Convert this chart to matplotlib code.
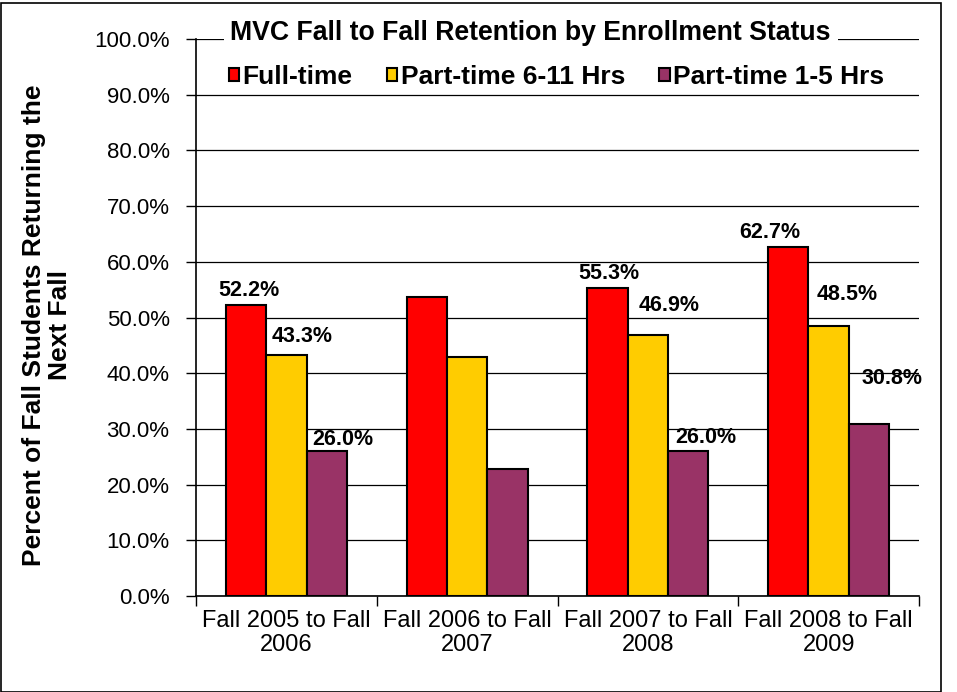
import matplotlib.pyplot as plt
import matplotlib.transforms as mtransforms
import numpy as np
from matplotlib.patches import Rectangle, Patch

plt.rcParams["font.family"] = ["Liberation Sans", "DejaVu Sans"]

periods = ["Fall 2005 to Fall\n2006", "Fall 2006 to Fall\n2007",
           "Fall 2007 to Fall\n2008", "Fall 2008 to Fall\n2009"]
series = ["Full-time", "Part-time 6-11 Hrs", "Part-time 1-5 Hrs"]
full_time = [52.2, 53.6, 55.3, 62.7]
part_6_11 = [43.3, 42.9, 46.9, 48.5]
part_1_5 = [26.0, 22.8, 26.0, 30.8]
# the 2006-2007 group has no data labels in the original
show_label = [True, False, True, True]

colors = ["#FF0000", "#FFCC00", "#993366"]
# label offsets in pixels (dx, dy) per series / period, as placed in the source chart
label_offsets = [
    [(3, 15), None, (1, 15), (-19, 14)],
    [(16, 18), None, (21, 29), (19, 31)],
    [(16, 12), None, (18, 14), (23, 46)],
]

fig = plt.figure(figsize=(9.57, 6.92), dpi=100)
ax = fig.add_axes([0.2048, 0.1387, 0.7555, 0.8049])

x = np.arange(len(periods))
width = 0.223
values = [full_time, part_6_11, part_1_5]
for i, (vals, color) in enumerate(zip(values, colors)):
    pos = x + (i - 1) * width
    ax.bar(pos, vals, width, color=color, edgecolor="black", linewidth=1.5, zorder=3)
    for j, v in enumerate(vals):
        if not show_label[j]:
            continue
        dx, dy = label_offsets[i][j]
        ax.annotate(f"{v:.1f}%", (pos[j], v), xytext=(dx * 0.72, dy * 0.72),
                    textcoords="offset points", ha="center", va="center",
                    fontsize=15.5, fontweight="bold", zorder=4)

ax.set_ylim(0, 100)
ax.set_xlim(-0.5, len(periods) - 0.5)
ticks = np.arange(0, 101, 10)
ax.set_yticks(ticks)
ax.set_yticklabels([f"{t:.1f}%" for t in ticks], fontsize=16)
ax.yaxis.grid(True, color="black", linewidth=0.9, zorder=0)
ax.set_axisbelow(True)

ax.set_xticks(np.arange(-0.5, len(periods), 1.0))
ax.set_xticklabels([])
ax.set_xticks(x, minor=True)
ax.set_xticklabels(periods, minor=True, fontsize=17, linespacing=1.15)
ax.tick_params(axis="x", which="minor", length=0, pad=10)
ax.tick_params(axis="x", which="major", length=7, width=1, direction="out")
ax.tick_params(axis="y", length=7, width=1, direction="out", pad=12)

for side in ("top", "right"):
    ax.spines[side].set_visible(False)
for side in ("left", "bottom"):
    ax.spines[side].set_linewidth(1.2)

ax.set_ylabel("Percent of Fall Students Returning the\nNext Fall",
              fontsize=19, fontweight="bold", linespacing=1.1)
ax.yaxis.set_label_coords(-0.171, 0.487)

title_tf = mtransforms.blended_transform_factory(ax.transAxes, ax.transData)
ax.text(0.463, 101.0, "MVC Fall to Fall Retention by Enrollment Status",
        transform=title_tf, ha="center", va="center", fontsize=19.2,
        fontweight="bold", zorder=5,
        bbox=dict(facecolor="white", edgecolor="none", pad=5))

handles = [Patch(facecolor=c, edgecolor="black", linewidth=1.5) for c in colors]
leg = ax.legend(handles, series, loc="center", bbox_to_anchor=(0.4986, 0.932),
                ncol=3, frameon=True, fontsize=19, handlelength=0.4, handleheight=0.4,
                handletextpad=0.12, columnspacing=1.3, borderaxespad=0, borderpad=0.05)
leg.get_frame().set_facecolor("white")
leg.get_frame().set_edgecolor("none")
leg.get_frame().set_alpha(1)
for t in leg.get_texts():
    t.set_fontweight("bold")

fig.patches.append(Rectangle((1 / 957, 0), 940 / 957, 1 - 3 / 692, transform=fig.transFigure,
                             fill=False, edgecolor="black", linewidth=1.2))

fig.savefig("out.png", dpi=100)
